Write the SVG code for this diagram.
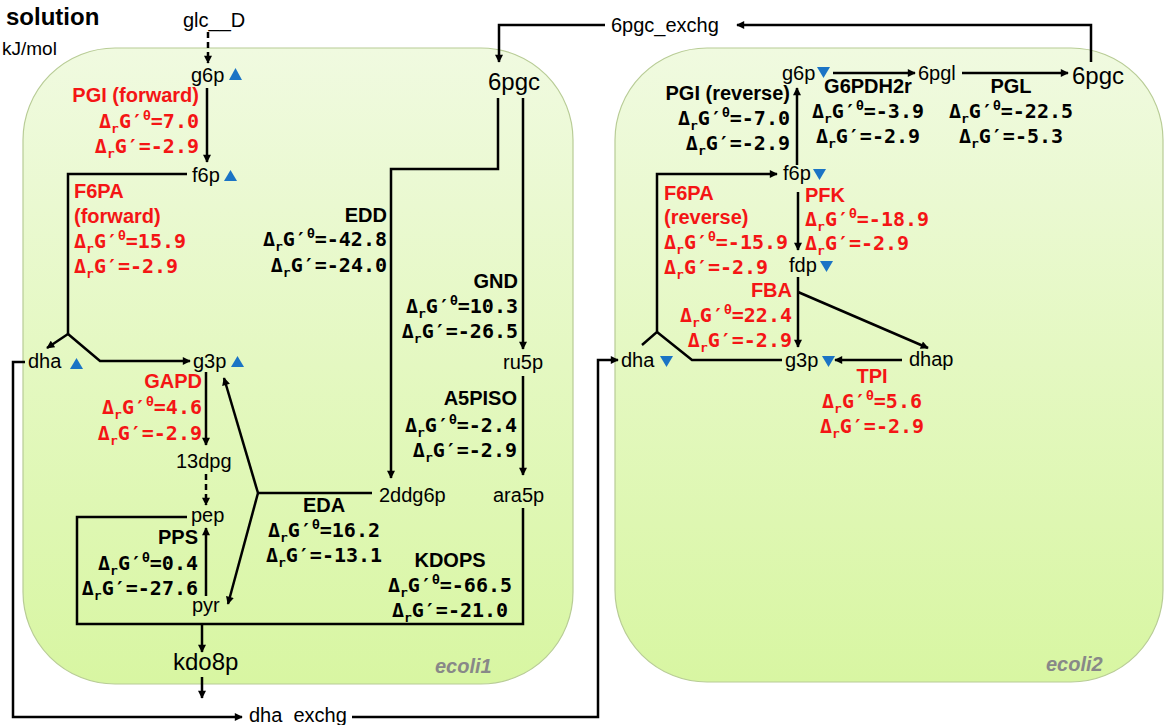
<svg xmlns="http://www.w3.org/2000/svg" width="1168" height="725" viewBox="0 0 1168 725">
<defs>
<linearGradient id="cg" x1="0" y1="0" x2="0" y2="1">
<stop offset="0" stop-color="#f0fae0"/>
<stop offset="1" stop-color="#d8f6a2"/>
</linearGradient>
<marker id="ah" viewBox="0 0 10 10" refX="9" refY="5" markerWidth="9" markerHeight="8" markerUnits="userSpaceOnUse" orient="auto">
<path d="M0,0 L10,5 L0,10 z" fill="#000"/>
</marker>
<style>
.comp{fill:url(#cg);stroke:#b8cc96;stroke-width:1.2}
.n{font-family:"Liberation Sans",Arial,sans-serif;font-size:20px;fill:#000}
.big{font-size:24px}
.b{font-family:"Liberation Sans",Arial,sans-serif;font-weight:bold;font-size:20px;fill:#000}
.m{font-family:"DejaVu Sans Mono",monospace;font-weight:bold;font-size:20px;fill:#000}
.red{fill:#f41515}
.s{font-size:13px}
.cl{font-family:"Liberation Sans",Arial,sans-serif;font-weight:bold;font-style:italic;font-size:20px;fill:#888}
.e{fill:none;stroke:#000;stroke-width:2.5}
.a{marker-end:url(#ah)}
.d{stroke-dasharray:6,4}
.tri{fill:#1b74c5}
</style>
</defs>

<g id="compartments">
<rect id="ecoli1" class="comp" x="23" y="48" width="550" height="636" rx="92" ry="92"/>
<rect id="ecoli2" class="comp" x="615" y="48" width="548" height="634" rx="92" ry="92"/>
<text class="cl" x="435" y="673">ecoli1</text>
<text class="cl" x="1046" y="671">ecoli2</text>
</g>

<text class="b" x="6" y="25" style="font-size:24px">solution</text>
<text class="n" x="2" y="55" style="font-size:19px">kJ/mol</text>

<g id="connectors">
<!-- ecoli1 -->
<path class="e a d" d="M208,32 V63"/>
<path class="e a" d="M207,88 V162"/>
<path class="e" d="M187,174 H68 V334"/>
<path class="e a" d="M68,334 L47,348"/>
<path class="e a" d="M68,334 L100,361 H190"/>
<path class="e a" d="M206,372 V445"/>
<path class="e a d" d="M206,474 V505"/>
<path class="e a" d="M206,596 V528"/>
<path class="e" d="M187,517 H77 V624 H523 V508"/>
<path class="e a" d="M202,624 V652"/>
<path class="e a" d="M202,677 V698"/>
<path class="e" d="M372,493 H258"/>
<path class="e a" d="M258,493 L224,378"/>
<path class="e a" d="M258,493 L228,604"/>
<path class="e a" d="M498,98 V169 H391 V478"/>
<path class="e a" d="M523,98 V349"/>
<path class="e a" d="M523,376 V475"/>
<!-- exchanges -->
<path class="e a" d="M605,25 H499 V62"/>
<path class="e a" d="M1091,62 V25 H737"/>
<path class="e a" d="M25,362 H13 V717 H242"/>
<path class="e a" d="M352,717 H598 V360 H618"/>
<!-- ecoli2 -->
<path class="e a" d="M833,73 H915"/>
<path class="e a" d="M962,73 H1068"/>
<path class="e a" d="M797,165 V88"/>
<path class="e a" d="M642,345 L657,332 V174 H777"/>
<path class="e" d="M657,332 L692,360 H782"/>
<path class="e a" d="M798,192 V250"/>
<path class="e a" d="M798,277 V347"/>
<path class="e a" d="M798,292 L928,348"/>
<path class="e a" d="M902,360 H835"/>
</g>

<g id="nodes">
<g id="glc__D"><text class="n" x="183" y="27">glc__D</text></g>
<g id="e1_g6p"><text class="n" x="191" y="82">g6p</text><polygon class="tri" points="229,80 242,80 235.5,68"/></g>
<g id="e1_f6p"><text class="n" x="192" y="182">f6p</text><polygon class="tri" points="224,181 237,181 230.5,170"/></g>
<g id="e1_dha"><text class="n" x="28" y="368">dha</text><polygon class="tri" points="70,369 83,369 76.5,358"/></g>
<g id="e1_g3p"><text class="n" x="193" y="368">g3p</text><polygon class="tri" points="231,367 244,367 237.5,356"/></g>
<g id="e1_13dpg"><text class="n" x="176" y="468">13dpg</text></g>
<g id="e1_pep"><text class="n" x="191" y="522">pep</text></g>
<g id="e1_pyr"><text class="n" x="192" y="612">pyr</text></g>
<g id="e1_kdo8p"><text class="n big" x="173" y="670">kdo8p</text></g>
<g id="e1_6pgc"><text class="n big" x="488" y="90">6pgc</text></g>
<g id="e1_ru5p"><text class="n" x="503" y="369">ru5p</text></g>
<g id="e1_ara5p"><text class="n" x="493" y="502">ara5p</text></g>
<g id="e1_2ddg6p"><text class="n" x="379" y="502">2ddg6p</text></g>
<g id="dha_exchg"><text class="n" x="249" y="722">dha_exchg</text></g>
<g id="6pgc_exchg"><text class="n" x="611" y="32">6pgc_exchg</text></g>
<g id="e2_g6p"><text class="n" x="782" y="80">g6p</text><polygon class="tri" points="817,67 830,67 823.5,78"/></g>
<g id="e2_6pgl"><text class="n" x="918" y="80">6pgl</text></g>
<g id="e2_6pgc"><text class="n big" x="1072" y="84">6pgc</text></g>
<g id="e2_f6p"><text class="n" x="783" y="180">f6p</text><polygon class="tri" points="813,169 826,169 819.5,180"/></g>
<g id="e2_fdp"><text class="n" x="789" y="272">fdp</text><polygon class="tri" points="820,261 833,261 826.5,272"/></g>
<g id="e2_dha"><text class="n" x="621" y="367">dha</text><polygon class="tri" points="660,356 673,356 666.5,367"/></g>
<g id="e2_g3p"><text class="n" x="785" y="367">g3p</text><polygon class="tri" points="822,356 835,356 828.5,367"/></g>
<g id="e2_dhap"><text class="n" x="909" y="366">dhap</text></g>
</g>

<g id="reaction-labels">
<!-- PGI forward -->
<g text-anchor="end">
<text class="b red" x="199" y="102">PGI (forward)</text>
<text class="m red" x="199" y="128">Δ<tspan class="s" dy="5">r</tspan><tspan dy="-5">G′</tspan><tspan class="s" dy="-8">θ</tspan><tspan dy="8">=7.0</tspan></text>
<text class="m red" x="199" y="153">Δ<tspan class="s" dy="5">r</tspan><tspan dy="-5">G′=-2.9</tspan></text>
</g>
<!-- F6PA forward -->
<g>
<text class="b red" x="74" y="198">F6PA</text>
<text class="b red" x="74" y="223">(forward)</text>
<text class="m red" x="74" y="248">Δ<tspan class="s" dy="5">r</tspan><tspan dy="-5">G′</tspan><tspan class="s" dy="-8">θ</tspan><tspan dy="8">=15.9</tspan></text>
<text class="m red" x="74" y="273">Δ<tspan class="s" dy="5">r</tspan><tspan dy="-5">G′=-2.9</tspan></text>
</g>
<!-- GAPD -->
<g text-anchor="end">
<text class="b red" x="202" y="388">GAPD</text>
<text class="m red" x="202" y="414">Δ<tspan class="s" dy="5">r</tspan><tspan dy="-5">G′</tspan><tspan class="s" dy="-8">θ</tspan><tspan dy="8">=4.6</tspan></text>
<text class="m red" x="202" y="440">Δ<tspan class="s" dy="5">r</tspan><tspan dy="-5">G′=-2.9</tspan></text>
</g>
<!-- PPS -->
<g text-anchor="end">
<text class="b" x="198" y="544">PPS</text>
<text class="m" x="198" y="570">Δ<tspan class="s" dy="5">r</tspan><tspan dy="-5">G′</tspan><tspan class="s" dy="-8">θ</tspan><tspan dy="8">=0.4</tspan></text>
<text class="m" x="198" y="595">Δ<tspan class="s" dy="5">r</tspan><tspan dy="-5">G′=-27.6</tspan></text>
</g>
<!-- EDD -->
<g text-anchor="end">
<text class="b" x="387" y="222">EDD</text>
<text class="m" x="387" y="246">Δ<tspan class="s" dy="5">r</tspan><tspan dy="-5">G′</tspan><tspan class="s" dy="-8">θ</tspan><tspan dy="8">=-42.8</tspan></text>
<text class="m" x="387" y="272">Δ<tspan class="s" dy="5">r</tspan><tspan dy="-5">G′=-24.0</tspan></text>
</g>
<!-- GND -->
<g text-anchor="end">
<text class="b" x="518" y="288">GND</text>
<text class="m" x="518" y="313">Δ<tspan class="s" dy="5">r</tspan><tspan dy="-5">G′</tspan><tspan class="s" dy="-8">θ</tspan><tspan dy="8">=10.3</tspan></text>
<text class="m" x="518" y="338">Δ<tspan class="s" dy="5">r</tspan><tspan dy="-5">G′=-26.5</tspan></text>
</g>
<!-- A5PISO -->
<g text-anchor="end">
<text class="b" x="517" y="405">A5PISO</text>
<text class="m" x="517" y="432">Δ<tspan class="s" dy="5">r</tspan><tspan dy="-5">G′</tspan><tspan class="s" dy="-8">θ</tspan><tspan dy="8">=-2.4</tspan></text>
<text class="m" x="517" y="457">Δ<tspan class="s" dy="5">r</tspan><tspan dy="-5">G′=-2.9</tspan></text>
</g>
<!-- EDA -->
<g text-anchor="middle">
<text class="b" x="324" y="512">EDA</text>
<text class="m" x="324" y="537">Δ<tspan class="s" dy="5">r</tspan><tspan dy="-5">G′</tspan><tspan class="s" dy="-8">θ</tspan><tspan dy="8">=16.2</tspan></text>
<text class="m" x="324" y="562">Δ<tspan class="s" dy="5">r</tspan><tspan dy="-5">G′=-13.1</tspan></text>
</g>
<!-- KDOPS -->
<g text-anchor="middle">
<text class="b" x="450" y="567">KDOPS</text>
<text class="m" x="450" y="592">Δ<tspan class="s" dy="5">r</tspan><tspan dy="-5">G′</tspan><tspan class="s" dy="-8">θ</tspan><tspan dy="8">=-66.5</tspan></text>
<text class="m" x="450" y="617">Δ<tspan class="s" dy="5">r</tspan><tspan dy="-5">G′=-21.0</tspan></text>
</g>
<!-- PGI reverse -->
<g text-anchor="end">
<text class="b" x="790" y="100">PGI (reverse)</text>
<text class="m" x="790" y="125">Δ<tspan class="s" dy="5">r</tspan><tspan dy="-5">G′</tspan><tspan class="s" dy="-8">θ</tspan><tspan dy="8">=-7.0</tspan></text>
<text class="m" x="790" y="150">Δ<tspan class="s" dy="5">r</tspan><tspan dy="-5">G′=-2.9</tspan></text>
</g>
<!-- G6PDH2r -->
<g text-anchor="middle">
<text class="b" x="868" y="93">G6PDH2r</text>
<text class="m" x="868" y="118">Δ<tspan class="s" dy="5">r</tspan><tspan dy="-5">G′</tspan><tspan class="s" dy="-8">θ</tspan><tspan dy="8">=-3.9</tspan></text>
<text class="m" x="868" y="143">Δ<tspan class="s" dy="5">r</tspan><tspan dy="-5">G′=-2.9</tspan></text>
</g>
<!-- PGL -->
<g text-anchor="middle">
<text class="b" x="1011" y="93">PGL</text>
<text class="m" x="1011" y="118">Δ<tspan class="s" dy="5">r</tspan><tspan dy="-5">G′</tspan><tspan class="s" dy="-8">θ</tspan><tspan dy="8">=-22.5</tspan></text>
<text class="m" x="1011" y="143">Δ<tspan class="s" dy="5">r</tspan><tspan dy="-5">G′=-5.3</tspan></text>
</g>
<!-- F6PA reverse -->
<g>
<text class="b red" x="664" y="200">F6PA</text>
<text class="b red" x="664" y="224">(reverse)</text>
<text class="m red" x="664" y="249">Δ<tspan class="s" dy="5">r</tspan><tspan dy="-5">G′</tspan><tspan class="s" dy="-8">θ</tspan><tspan dy="8">=-15.9</tspan></text>
<text class="m red" x="664" y="274">Δ<tspan class="s" dy="5">r</tspan><tspan dy="-5">G′=-2.9</tspan></text>
</g>
<!-- PFK -->
<g>
<text class="b red" x="805" y="202">PFK</text>
<text class="m red" x="805" y="226">Δ<tspan class="s" dy="5">r</tspan><tspan dy="-5">G′</tspan><tspan class="s" dy="-8">θ</tspan><tspan dy="8">=-18.9</tspan></text>
<text class="m red" x="805" y="250">Δ<tspan class="s" dy="5">r</tspan><tspan dy="-5">G′=-2.9</tspan></text>
</g>
<!-- FBA -->
<g text-anchor="end">
<text class="b red" x="792" y="297">FBA</text>
<text class="m red" x="792" y="322">Δ<tspan class="s" dy="5">r</tspan><tspan dy="-5">G′</tspan><tspan class="s" dy="-8">θ</tspan><tspan dy="8">=22.4</tspan></text>
<text class="m red" x="792" y="347">Δ<tspan class="s" dy="5">r</tspan><tspan dy="-5">G′=-2.9</tspan></text>
</g>
<!-- TPI -->
<g text-anchor="middle">
<text class="b red" x="872" y="383">TPI</text>
<text class="m red" x="872" y="408">Δ<tspan class="s" dy="5">r</tspan><tspan dy="-5">G′</tspan><tspan class="s" dy="-8">θ</tspan><tspan dy="8">=5.6</tspan></text>
<text class="m red" x="872" y="433">Δ<tspan class="s" dy="5">r</tspan><tspan dy="-5">G′=-2.9</tspan></text>
</g>
</g>
</svg>
